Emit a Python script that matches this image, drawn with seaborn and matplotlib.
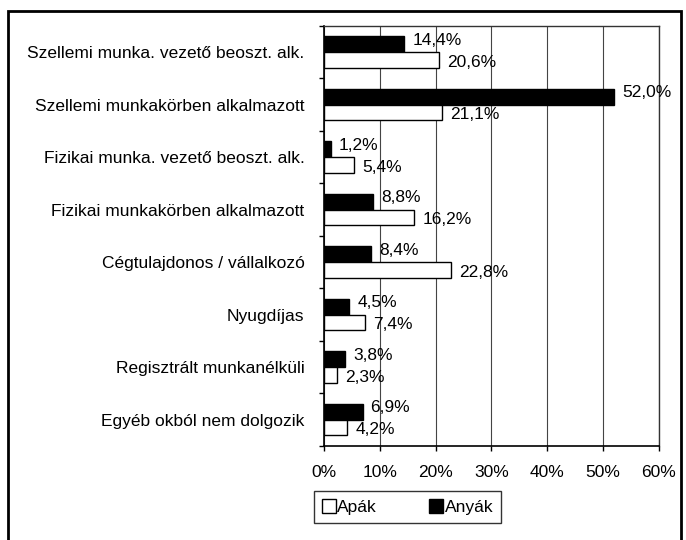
import pandas as pd
import matplotlib.pyplot as plt
import seaborn as sns
from matplotlib.patches import Patch, Rectangle
from matplotlib.ticker import FuncFormatter

categories = [
    "Szellemi munka. vezető beoszt. alk.",
    "Szellemi munkakörben alkalmazott",
    "Fizikai munka. vezető beoszt. alk.",
    "Fizikai munkakörben alkalmazott",
    "Cégtulajdonos / vállalkozó",
    "Nyugdíjas",
    "Regisztrált munkanélküli",
    "Egyéb okból nem dolgozik",
]
apak = [20.6, 21.1, 5.4, 16.2, 22.8, 7.4, 2.3, 4.2]
anyak = [14.4, 52.0, 1.2, 8.8, 8.4, 4.5, 3.8, 6.9]
x_ticks = [0, 10, 20, 30, 40, 50, 60]

df = pd.DataFrame({
    "kat": categories * 2,
    "csoport": ["Anyák"] * len(categories) + ["Apák"] * len(categories),
    "ertek": anyak + apak,
})

sns.set_style("white")
plt.rcParams["font.family"] = ["Liberation Sans", "DejaVu Sans"]
plt.rcParams["font.size"] = 12.5
plt.rcParams["text.color"] = "black"
plt.rcParams["xtick.color"] = "black"
plt.rcParams["ytick.color"] = "black"
plt.rcParams["xtick.labelcolor"] = "black"
plt.rcParams["ytick.labelcolor"] = "black"

fig = plt.figure(figsize=(6.86, 5.4), dpi=100)
ax = fig.add_axes([0.4723, 0.1741, 0.4883, 0.7778])

colors = {"Anyák": "black", "Apák": "white"}
sns.barplot(data=df, y="kat", x="ertek", hue="csoport", order=categories,
            hue_order=["Anyák", "Apák"], palette=colors, width=0.6, gap=0,
            edgecolor="black", linewidth=1, orient="h", legend=False, ax=ax,
            zorder=3)

# adatfeliratok
for cont, dy in zip(ax.containers, [3, -1.5]):
    for bar in cont:
        v = bar.get_width()
        ax.annotate(f"{v:.1f}%".replace(".", ","),
                    (v, bar.get_y() + bar.get_height() / 2),
                    xytext=(5.8, dy), textcoords="offset points",
                    ha="left", va="center", fontsize=12.5, color="black",
                    zorder=4)

ax.set_xlim(0, 60)
ax.set_ylim(len(categories) - 0.5, -0.5)
ax.set_xticks(x_ticks)
ax.xaxis.set_major_formatter(FuncFormatter(lambda v, p: f"{v:.0f}%"))
ax.set_xlabel("")
ax.set_ylabel("")
ax.xaxis.grid(True, color="#444444", linewidth=0.8, zorder=0)
ax.yaxis.grid(False)

ax.tick_params(axis="x", bottom=True, length=3.5, width=1, pad=10,
               labelsize=12.5, color="black", labelcolor="black")
ax.tick_params(axis="y", which="major", length=0, pad=14, labelsize=12.5,
               labelcolor="black")
ax.set_yticks([i - 0.5 for i in range(len(categories) + 1)], minor=True)
ax.tick_params(axis="y", which="minor", left=True, length=3.5, width=1,
               color="black")

for side in ["left", "bottom"]:
    ax.spines[side].set_color("black")
    ax.spines[side].set_linewidth(1.2)
for side in ["top", "right"]:
    ax.spines[side].set_color("#333333")
    ax.spines[side].set_linewidth(1.0)

handles = [Patch(facecolor="white", edgecolor="black", label="Apák"),
           Patch(facecolor="black", edgecolor="black", label="Anyák")]
leg = fig.legend(handles=handles, loc="center", bbox_to_anchor=(0.594, 0.061),
                 ncol=2, frameon=True, fancybox=False, handlelength=0.8,
                 handleheight=0.8, handletextpad=0.1, columnspacing=3.0,
                 borderpad=0.45, borderaxespad=0, fontsize=12.5)
leg.get_frame().set_edgecolor("black")
leg.get_frame().set_linewidth(1)
for t in leg.get_texts():
    t.set_color("black")

# keret a teljes ábra körül
fig.patches.append(Rectangle((8 / 686, -0.05), 673 / 686, 1 - 11 / 540 + 0.05,
                             transform=fig.transFigure, fill=False,
                             edgecolor="black", linewidth=2))

fig.savefig("out.png", dpi=100)
plt.close()
